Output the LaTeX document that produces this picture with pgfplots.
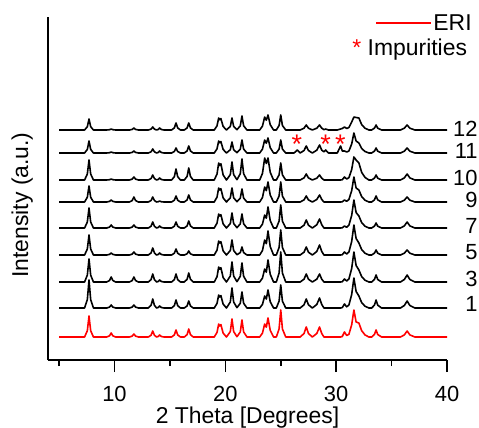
\documentclass[border=0pt]{standalone}
\usepackage{fontspec}
\setmainfont{Liberation Sans}
\usepackage{pgfplots}
\usepackage{pgfplotstable}
\pgfplotsset{compat=1.18}

% peak profiles; one column per sample, offsets added when plotted
\pgfplotstableread{
x     e    s1   s3   s5   s7   s9   s10  s11  s12
5.0   0    0    0    0    0    0    0    0    0
7.3   0    0    0    0    0    0    0    0    0
7.55  6.3  8.4  6.9  6.0  6.0  4.8  6.0  3.6  3.3
7.7   21   28   23   20   20   16   20   12   11
7.85  6.3  8.4  6.9  6.0  6.0  4.8  6.0  3.6  3.3
8.1   0    0    0    0    0    0    0    0    0
9.3   0    0    0    0    0    0    0    0    0
9.55  1.2  0.9  1.5  0.6  0.9  0.6  0.3  0.3  0.3
9.7   4    3    5    2    3    2    1    1    1
9.85  1.2  0.9  1.5  0.6  0.9  0.6  0.3  0.3  0.3
10.1  0    0    0    0    0    0    0    0    0
11.35 0    0    0    0    0    0    0    0    0
11.6  0.9  0.9  1.5  0.9  0.9  1.5  0.9  0.6  0.6
11.75 3    3    5    3    3    5    3    2    2
11.9  0.9  0.9  1.5  0.9  0.9  1.5  0.9  0.6  0.6
12.15 0    0    0    0    0    0    0    0    0
13.05 0    0    0    0    0    0    0    0    0
13.3  1.8  2.7  2.4  2.1  1.8  1.5  1.5  1.2  0.9
13.45 6    9    8    7    6    5    5    4    3
13.6  1.8  2.7  2.4  2.1  1.8  1.5  1.5  1.2  0.9
13.8  0    0    0    0    0    0    0    0    0
13.95 0.6  0.6  0.6  0.6  0.6  0.3  0.6  0.6  0.6
14.07 2    2    2    2    2    1    2    2    2
14.2  0.6  0.6  0.6  0.6  0.6  0.3  0.6  0.6  0.6
14.45 0    0    0    0    0    0    0    0    0
15.15 0    0    0    0    0    0    0    0    0
15.4  2.1  2.4  2.4  1.8  1.8  1.8  3.3  1.5  2.1
15.55 7    8    8    6    6    6    11   5    7
15.7  2.1  2.4  2.4  1.8  1.8  1.8  3.3  1.5  2.1
15.95 0    0    0    0    0    0    0    0    0
16.3  0    0    0    0    0    0    0    0    0
16.55 2.4  2.1  2.7  1.2  2.1  2.1  3.6  2.1  2.1
16.7  8    7    9    4    7    7    12   7    7
16.85 2.4  2.1  2.7  1.2  2.1  2.1  3.6  2.1  2.1
17.1  0    0    0    0    0    0    0    0    0
19.0  0    0    0    0    0    0    0    0    0
19.25 4.6  4.6  5.3  4.9  4.9  4.9  6.0  4.2  4.2
19.4  13   13   15   14   14   14   17   12   12
19.5  11.0 11.0 12.8 11.9 11.9 11.9 14.5 10.2 10.2
19.6  12.4 12.4 14.3 13.3 13.3 13.3 16.2 11.4 11.4
19.8  3.9  3.9  4.5  4.2  4.2  4.2  5.1  3.6  3.6
20.1  0    0    0    0    0    0    0    0    0
20.45 5.4  6.0  6.0  4.5  4.5  4.2  5.4  3.3  3.6
20.6  18   20   20   15   15   14   18   11   12
20.75 5.4  6.0  6.0  4.5  4.5  4.2  5.4  3.3  3.6
21.05 0.3  0.3  0.3  0.3  0.3  0.3  0.3  0.3  0.3
21.35 5.1  4.8  5.7  2.4  4.2  3.9  6.3  3.9  4.2
21.5  17   16   19   8    14   13   21   13   14
21.65 5.1  4.8  5.7  2.4  4.2  3.9  6.3  3.9  4.2
21.95 0    0    0    0    0    0    0    0    0
23.1  0    0    0    0    0    0    0    0    0
23.35 3.9  3.6  3.9  4.5  3.9  4.5  6.6  3.9  3.9
23.55 13   12   13   15   13   15   22   13   13
23.7  9.8  9.0  9.8  11.3 9.8  11.3 16.5 9.8  9.8
23.85 19   18   22   24   21   20   22   15   15
24.05 6.7  6.3  7.7  8.4  7.4  7.0  7.7  5.3  5.3
24.35 0    0    0    0    0    0    0    0    0
24.6  0    0    0    0    0    0    0    0    0
24.85 8.1  6.9  9.0  7.5  6.9  6.0  5.1  3.9  4.5
25.0  27   23   30   25   23   20   17   13   15
25.15 8.1  6.9  9.0  7.5  6.9  6.0  5.1  3.9  4.5
25.45 0    0    0    0    0    0    0    0    0
26.2  0    0    0    0    0    0    0    0    0
26.5  0    0    0    0    0    0    0    3    0
26.75 0    0    0    0    0    0    0    0    0
27.1  3.5  3.2  2.8  2.8  2.8  2.1  2.1  2.5  1.8
27.3  10   9    8    8    8    6    6    7    5
27.5  3.5  3.2  2.8  2.8  2.8  2.1  2.1  2.5  1.8
27.85 0    0    0    0    0    0    0    0    0
28.25 3.5  3.5  2.8  3.5  3.2  2.5  1.8  2.8  1.8
28.5  10   10   8    10   9    7    5    8    5
28.7  3.5  3.5  2.8  3.5  3.2  2.5  1.8  2.8  1.8
28.9  0    0    0    0    0    0    0    1.2  0.3
29.05 0    0    0    0    0    0    0    3    1
29.3  0    0    0    0    0    0    0    0    0
30.1  0    0    0    0    0    0    0    0    0
30.4  0    0    0    0    0    0    0    7    1
30.55 0.5  0.4  0.3  0.3  0.2  0.2  0.3  2.0  1.5
30.75 5    4    3    3    2    2    3    2    3
30.95 1.5  1.2  1.0  1.0  0.7  0.7  1.0  1.0  1.5
31.15 2.7  3.0  3.0  3.0  2.8  2.5  2.3  2.0  2.5
31.4  12.2 13.5 13.5 13.5 12.6 11.3 10.4 9.0  8.0
31.6  27   30   30   30   28   25   23   20   13
31.8  15   16.5 16.5 16.5 15.5 14   20   12   12.5
32.05 14   12   12   12   12   12   17   10   12
32.3  6.3  5.4  5.4  5.4  5.4  5.4  7.7  4.5  5.4
32.6  2.1  1.8  1.8  1.8  1.8  1.8  2.6  1.5  1.8
32.95 0    0    0    0    0    0    0    0    0
33.2  0    0    0    0    0    0    0    0    0
33.45 2.5  2.8  2.5  1.8  1.8  2.1  1.8  1.8  1.8
33.6  7    8    7    5    5    6    5    5    5
33.75 2.5  2.8  2.5  1.8  1.8  2.1  1.8  1.8  1.8
34.1  0    0    0    0    0    0    0    0    0
35.8  0    0    0    0    0    0    0    0    0
36.15 2.1  2.5  2.5  1.8  2.1  1.8  2.1  1.8  1.8
36.4  6    7    7    5    6    5    6    5    5
36.65 2.1  2.5  2.5  1.8  2.1  1.8  2.1  1.8  1.8
37.1  0    0    0    0    0    0    0    0    0
40.0  0    0    0    0    0    0    0    0    0
}\xrd

\begin{document}
\begin{tikzpicture}
\begin{axis}[
  at={(0,0)}, anchor=south west, scale only axis,
  width=399bp, height=343bp,
  xmin=4, xmax=40, ymin=0, ymax=343,
  axis lines=left, axis line style={-, line width=1.8bp},
  clip=false,
  xtick={10,20,30,40}, minor xtick={5,15,25,35}, ytick=\empty,
  tick align=outside, major tick length=12bp, minor tick length=6bp,
  tick style={black, line width=1.5bp},
  /pgf/number format/assume math mode=true,
  tick label style={font=\fontsize{22}{26}\selectfont},
  xticklabel style={inner sep=0pt, yshift=-14bp},
  label style={font=\fontsize{23}{27}\selectfont},
  xlabel={2 Theta [Degrees]},
  xlabel style={at={(axis description cs:0.5,-0.1837)}, anchor=base},
  ylabel={Intensity (a.u.)},
  ylabel style={at={(axis description cs:-0.0501,0.452)}, anchor=base},
  every axis plot/.append style={line width=1.6bp, line join=round},
]
\addplot[red]   table[x=x, y expr=\thisrow{e}+23]   {\xrd};
\addplot[black] table[x=x, y expr=\thisrow{s1}+52]  {\xrd};
\addplot[black] table[x=x, y expr=\thisrow{s3}+78]  {\xrd};
\addplot[black] table[x=x, y expr=\thisrow{s5}+105] {\xrd};
\addplot[black] table[x=x, y expr=\thisrow{s7}+132] {\xrd};
\addplot[black] table[x=x, y expr=\thisrow{s9}+158] {\xrd};
\addplot[black] table[x=x, y expr=\thisrow{s10}+180] {\xrd};
\addplot[black] table[x=x, y expr=\thisrow{s11}+207] {\xrd};
\addplot[black] table[x=x, y expr=\thisrow{s12}+230] {\xrd};

% impurity reflections
\addplot[red, only marks, mark=text, text mark={*}, text mark as node=true,
  text mark style={font=\fontsize{27}{27}\selectfont, text=red, inner sep=0pt}]
  coordinates {(26.45,216) (29.05,216) (30.37,216)};

% sample labels
\begin{scope}[every node/.style={anchor=east, inner sep=0pt, font=\fontsize{22}{26}\selectfont}]
\node at (axis cs:42.78,231.5) {12};
\node at (axis cs:42.78,209) {11};
\node at (axis cs:42.78,182.5) {10};
\node at (axis cs:42.78,160) {9};
\node at (axis cs:42.78,134) {7};
\node at (axis cs:42.78,108) {5};
\node at (axis cs:42.78,81) {3};
\node at (axis cs:42.78,56) {1};
\end{scope}

% legend
\draw[red, line width=1.6bp] (axis cs:33.6,336.7) -- (axis cs:38.52,336.7);
\node[anchor=base west, inner sep=0pt, font=\fontsize{23}{27}\selectfont] at (axis cs:38.76,329.3) {ERI};
\node[anchor=base west, inner sep=0pt, font=\fontsize{23}{27}\selectfont] at (axis cs:31.45,304.7) {\textcolor{red}{*} Impurities};
\end{axis}
\pgfresetboundingbox
\path (-48bp,-68bp) rectangle (431bp,360bp);
\end{tikzpicture}
\end{document}
